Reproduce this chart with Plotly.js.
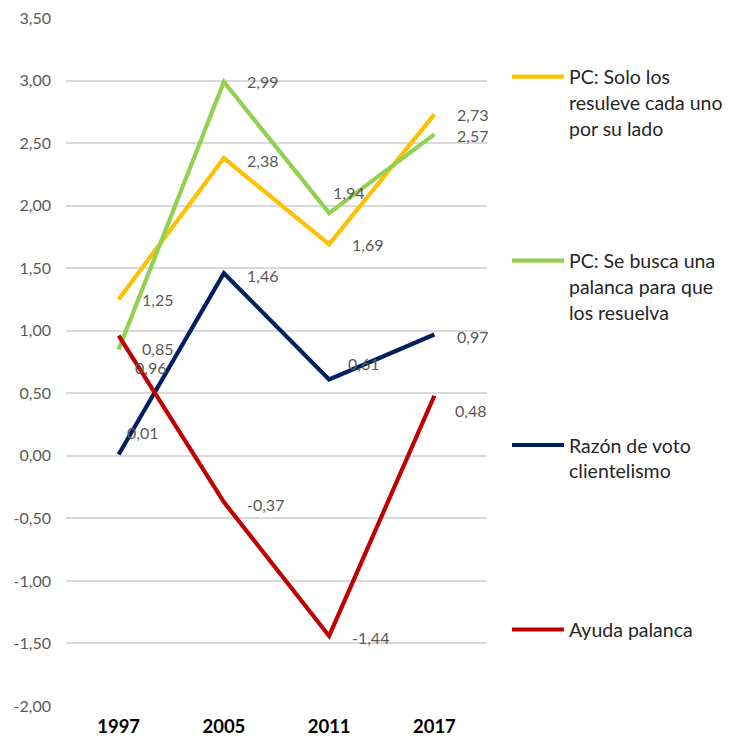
<!DOCTYPE html>
<html>
<head>
<meta charset="utf-8">
<script src="https://cdn.plot.ly/plotly-3.0.1.min.js"></script>
<style>html,body{margin:0;padding:0;background:#fff;}#chart{width:729px;height:742px;}</style>
</head>
<body>
<div id="chart"></div>
<script>
// ---- data ----
const years = ["1997", "2005", "2011", "2017"];
const seriesNames = [
  "PC: Solo los resuleve cada uno por su lado",
  "PC: Se busca una palanca para que los resuelva",
  "Razón de voto clientelismo",
  "Ayuda palanca"
];
const legendLines = [
  ["PC: Solo los", "resuleve cada uno", "por su lado"],
  ["PC: Se busca una", "palanca para que", "los resuelva"],
  ["Razón de voto", "clientelismo"],
  ["Ayuda palanca"]
];
const soloValues = [1.25, 2.38, 1.69, 2.73];
const palancaBuscaValues = [0.85, 2.99, 1.94, 2.57];
const razonValues = [0.01, 1.46, 0.61, 0.97];
const ayudaValues = [0.96, -0.37, -1.44, 0.48];
const yTickVals = [-2, -1.5, -1, -0.5, 0, 0.5, 1, 1.5, 2, 2.5, 3, 3.5];

// ---- styles ----
const colors = ["#FFC000", "#92D050", "#002060", "#C00000"];
const allValues = [soloValues, palancaBuscaValues, razonValues, ayudaValues];
// label offsets in px [dx, dy(up positive)]
const labelOffsets = [
  [[21,0],[21,-2],[21,0],[21,0]],
  [[21,1],[21,0],[2,21],[21,-1]],
  [[6,22],[21,-2],[17,16],[21,-2]],
  [[14,-32],[21,-2],[21,-2],[19,-15]]
];
const fmt = v => v.toFixed(2).replace(".", ",");
const FONT = "Lato, 'Open Sans', sans-serif";

const traces = allValues.map((vals, i) => ({
  type: "scatter",
  mode: "lines",
  x: years,
  y: vals,
  name: seriesNames[i],
  line: {color: colors[i], width: 4.2},
  showlegend: false,
  hoverinfo: "x+y"
}));
const annotations = [];
allValues.forEach((vals, i) => {
  vals.forEach((v, j) => {
    annotations.push({
      x: j, y: v, xref: "x", yref: "y",
      text: fmt(v), showarrow: false,
      xanchor: "left", yanchor: "middle",
      xshift: labelOffsets[i][j][0], yshift: labelOffsets[i][j][1],
      font: {family: FONT, size: 16, color: "#595959"}
    });
  });
});

// legend (manual) in paper coords
const L = 66, W = 421, B = 706, H = 688;
const px = p => (p - L) / W;
const py = p => (B - p) / H;
const rowY = [76.7, 260.7, 445, 629.5];
const lineGap = 25.7;
const shapes = [];
legendLines.forEach((lines, i) => {
  shapes.push({
    type: "line", xref: "paper", yref: "paper",
    x0: px(512), x1: px(564), y0: py(rowY[i]), y1: py(rowY[i]),
    line: {color: colors[i], width: 4.2}
  });
  lines.forEach((t, k) => {
    annotations.push({
      xref: "paper", yref: "paper",
      x: px(567), y: py(rowY[i] + k * lineGap),
      xanchor: "left", yanchor: "middle",
      text: t, showarrow: false,
      font: {family: FONT, size: 19.5, color: "#262626"}
    });
  });
});

const layout = {
  width: 729, height: 742,
  margin: {l: 66, r: 242, t: 18, b: 36},
  paper_bgcolor: "#fff", plot_bgcolor: "#fff",
  showlegend: false,
  xaxis: {
    type: "category",
    range: [-0.5, 3.5],
    showgrid: false, zeroline: false, showline: false, ticks: "",
    tickfont: {family: FONT, size: 18.5, color: "#000", weight: "bold"},
    ticklabelstandoff: 7,
    fixedrange: true
  },
  yaxis: {
    range: [-2, 3.5],
    tickvals: yTickVals,
    ticktext: yTickVals.map(fmt),
    showgrid: true, gridcolor: "#D9D9D9", gridwidth: 2,
    zeroline: false, showline: false, ticks: "",
    tickfont: {family: FONT, size: 16, color: "#595959"},
    ticklabelstandoff: 14,
    fixedrange: true
  },
  annotations: annotations,
  shapes: shapes
};
Plotly.newPlot("chart", traces, layout, {displayModeBar: false, staticPlot: true});
</script>
</body>
</html>
